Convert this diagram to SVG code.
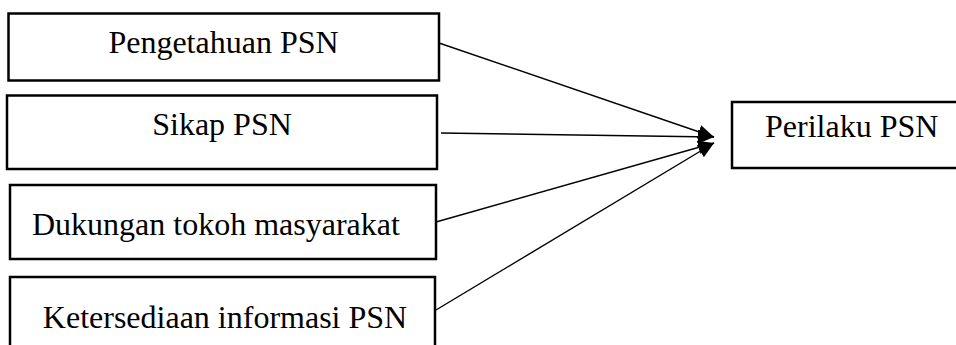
<svg xmlns="http://www.w3.org/2000/svg" width="956" height="345" viewBox="0 0 956 345">
<style>
.box{fill:#fff;stroke:#000;stroke-width:2.5}
.lbl{font-family:"Liberation Serif","Times New Roman",serif;font-size:32px;fill:#000}
.c{stroke:#000;stroke-width:1.4;fill:none;marker-end:url(#ah)}
</style>
<defs>
<marker id="ah" markerUnits="userSpaceOnUse" markerWidth="18" markerHeight="16" refX="16" refY="8" orient="auto">
<path d="M0,1 L16,8 L0,15 Z" fill="#000"/>
</marker>
</defs>
<rect width="956" height="345" fill="#fff"/>
<g id="n1"><rect class="box" x="8.5" y="13.5" width="430.5" height="67"/><text class="lbl" x="223.5" y="53" text-anchor="middle">Pengetahuan PSN</text></g>
<g id="n2"><rect class="box" x="7" y="95.5" width="430" height="73.5"/><text class="lbl" x="222" y="135" text-anchor="middle">Sikap PSN</text></g>
<g id="n3"><rect class="box" x="10" y="185" width="426" height="74"/><text class="lbl" x="32" y="235">Dukungan tokoh masyarakat</text></g>
<g id="n4"><rect class="box" x="10" y="277" width="425" height="80"/><text class="lbl" x="225" y="328" text-anchor="middle">Ketersediaan informasi PSN</text></g>
<g id="n5"><rect class="box" x="732" y="102" width="230" height="66"/><text class="lbl" x="765" y="137">Perilaku PSN</text></g>
<g id="connectors">
<line class="c" x1="439" y1="43" x2="714" y2="137"/>
<line class="c" x1="441" y1="133" x2="714" y2="137"/>
<line class="c" x1="436" y1="222" x2="714" y2="143"/>
<line class="c" x1="436" y1="310" x2="714" y2="143"/>
</g>
</svg>
